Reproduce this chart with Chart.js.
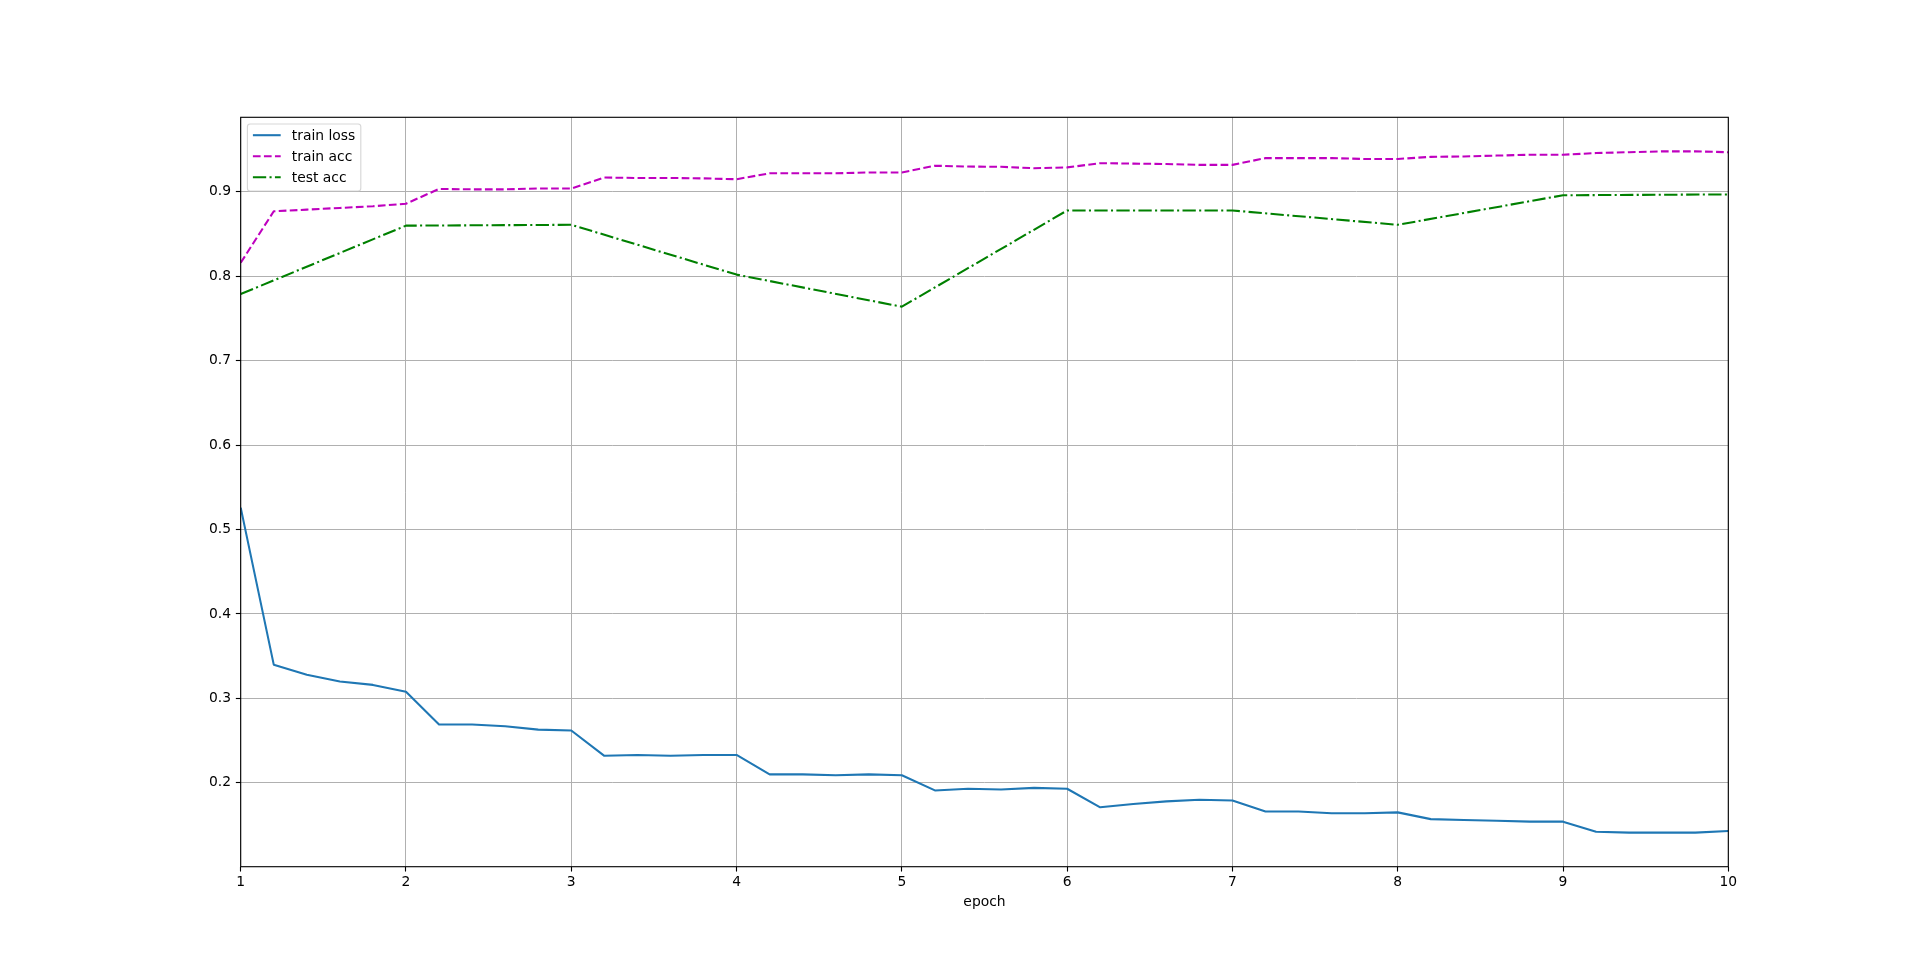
<!DOCTYPE html>
<html>
<head>
<meta charset="utf-8">
<script src="https://cdn.jsdelivr.net/npm/chart.js@4.4.1/dist/chart.umd.min.js"></script>
<style>
html,body{margin:0;padding:0;background:#fff;overflow:hidden}
canvas{display:block}
</style>
</head>
<body>
<canvas id="c" width="1920" height="973"></canvas>
<script>
// ---- data ----
const epochs = [1.0,1.2,1.4,1.6,1.8,2.0,2.2,2.4,2.6,2.8,3.0,3.2,3.4,3.6,3.8,4.0,4.2,4.4,4.6,4.8,5.0,5.2,5.4,5.6,5.8,6.0,6.2,6.4,6.6,6.8,7.0,7.2,7.4,7.6,7.8,8.0,8.2,8.4,8.6,8.8,9.0,9.2,9.4,9.6,9.8,10.0];
const trainLoss = [0.526,0.340,0.328,0.320,0.316,0.308,0.269,0.269,0.267,0.263,0.262,0.232,0.233,0.232,0.233,0.233,0.210,0.210,0.209,0.210,0.209,0.191,0.193,0.192,0.194,0.193,0.171,0.175,0.178,0.180,0.179,0.166,0.166,0.164,0.164,0.165,0.157,0.156,0.155,0.154,0.154,0.142,0.141,0.141,0.141,0.143];
const trainAcc = [0.816,0.877,0.879,0.881,0.883,0.886,0.9035,0.903,0.903,0.904,0.904,0.917,0.9165,0.9165,0.916,0.915,0.922,0.922,0.922,0.923,0.923,0.931,0.930,0.9297,0.928,0.929,0.934,0.9335,0.933,0.932,0.932,0.940,0.940,0.940,0.939,0.939,0.9415,0.942,0.943,0.944,0.944,0.946,0.947,0.948,0.948,0.947];
const testEpochs = [1,2,3,4,5,6,7,8,9,10];
const testAcc = [0.779,0.860,0.861,0.802,0.764,0.878,0.878,0.861,0.896,0.897];
const xTicks = [1,2,3,4,5,6,7,8,9,10];
const yTicks = [0.2,0.3,0.4,0.5,0.6,0.7,0.8,0.9];
const seriesLabels = ['train loss','train acc','test acc'];
const xLabel = 'epoch';

// matplotlib-like autoscale (5% margins)
const allY = trainLoss.concat(trainAcc, testAcc);
const lo = Math.min(...allY), hi = Math.max(...allY);
const yMin = lo - 0.05 * (hi - lo), yMax = hi + 0.05 * (hi - lo);

const FONT = 'DejaVu Sans';
const FS = 13.89;
Chart.defaults.font.family = FONT;
Chart.defaults.font.size = FS;
Chart.defaults.color = '#000';

const pts = (xs, ys) => xs.map((x, i) => ({x: x, y: ys[i]}));

const framePlugin = {
  id: 'mplFrame',
  afterDatasetsDraw(chart) {
    const {ctx, chartArea: a} = chart;
    ctx.save();
    ctx.strokeStyle = '#000';
    ctx.lineWidth = 1.11;
    ctx.strokeRect(a.left, a.top, a.right - a.left, a.bottom - a.top);
    ctx.restore();

    // legend (upper left, matplotlib style)
    ctx.save();
    ctx.font = FS + 'px "' + FONT + '"';
    const texts = chart.data.datasets.map(d => d.label);
    const tw = Math.max(...texts.map(t => ctx.measureText(t).width));
    const pad = 5.5, hl = 27.8, htp = 11.1, rowH = 21.0;
    const x0 = a.left + 6.7, y0 = a.top + 6.7;
    const w = pad + hl + htp + tw + pad;
    const h = 67;
    const r = 2.8;
    ctx.beginPath();
    ctx.moveTo(x0 + r, y0);
    ctx.lineTo(x0 + w - r, y0);
    ctx.quadraticCurveTo(x0 + w, y0, x0 + w, y0 + r);
    ctx.lineTo(x0 + w, y0 + h - r);
    ctx.quadraticCurveTo(x0 + w, y0 + h, x0 + w - r, y0 + h);
    ctx.lineTo(x0 + r, y0 + h);
    ctx.quadraticCurveTo(x0, y0 + h, x0, y0 + h - r);
    ctx.lineTo(x0, y0 + r);
    ctx.quadraticCurveTo(x0, y0, x0 + r, y0);
    ctx.closePath();
    ctx.fillStyle = 'rgba(255,255,255,0.8)';
    ctx.fill();
    ctx.strokeStyle = 'rgba(204,204,204,0.8)';
    ctx.lineWidth = 1.11;
    ctx.stroke();
    chart.data.datasets.forEach((ds, i) => {
      const cy = y0 + 11.2 + i * rowH;
      ctx.beginPath();
      ctx.setLineDash(ds.borderDash || []);
      ctx.strokeStyle = ds.borderColor;
      ctx.lineWidth = ds.borderWidth;
      ctx.lineCap = 'butt';
      ctx.moveTo(x0 + pad, cy);
      ctx.lineTo(x0 + pad + hl, cy);
      ctx.stroke();
      ctx.setLineDash([]);
      ctx.fillStyle = '#000';
      ctx.textAlign = 'left';
      ctx.textBaseline = 'middle';
      ctx.fillText(ds.label, x0 + pad + hl + htp, cy + 0.8);
    });
    ctx.restore();
  }
};

new Chart(document.getElementById('c'), {
  type: 'line',
  data: {
    datasets: [
      {label: seriesLabels[0], data: pts(epochs, trainLoss), borderColor: '#1f77b4', borderWidth: 2.08, pointRadius: 0, tension: 0, fill: false, borderJoinStyle: 'round'},
      {label: seriesLabels[1], data: pts(epochs, trainAcc), borderColor: '#bf00bf', borderWidth: 2.08, borderDash: [7.7, 3.33], pointRadius: 0, tension: 0, fill: false, borderJoinStyle: 'round'},
      {label: seriesLabels[2], data: pts(testEpochs, testAcc), borderColor: '#008000', borderWidth: 2.08, borderDash: [13.3, 3.33, 2.08, 3.33], pointRadius: 0, tension: 0, fill: false, borderJoinStyle: 'round'}
    ]
  },
  options: {
    responsive: false,
    animation: false,
    devicePixelRatio: 1,
    layout: {padding: {left: 180.7, right: 191.7, top: 117.3, bottom: 62}},
    plugins: {legend: {display: false}, tooltip: {enabled: false}},
    scales: {
      x: {
        type: 'linear',
        min: xTicks[0],
        max: xTicks[xTicks.length - 1],
        afterBuildTicks: s => { s.ticks = xTicks.map(v => ({value: v})); },
        afterFit: s => { s.height = 44.3; },
        ticks: {padding: 3, maxRotation: 0, autoSkip: false, font: {size: FS, family: FONT}, color: '#000', callback: v => String(v)},
        grid: {color: '#b0b0b0', lineWidth: 1, drawTicks: true, tickLength: 4.86, tickColor: '#000', tickWidth: 1.11},
        border: {display: false},
        title: {display: true, text: xLabel, font: {size: FS, family: FONT}, color: '#000', padding: {top: 0, bottom: 0}}
      },
      y: {
        type: 'linear',
        min: yMin,
        max: yMax,
        afterBuildTicks: s => { s.ticks = yTicks.map(v => ({value: v})); },
        afterFit: s => { s.width = 60; },
        ticks: {padding: 4.86, autoSkip: false, font: {size: FS, family: FONT}, color: '#000', callback: v => v.toFixed(1)},
        grid: {color: '#b0b0b0', lineWidth: 1, drawTicks: true, tickLength: 4.86, tickColor: '#000', tickWidth: 1.11},
        border: {display: false}
      }
    }
  },
  plugins: [framePlugin]
});
</script>
</body>
</html>
